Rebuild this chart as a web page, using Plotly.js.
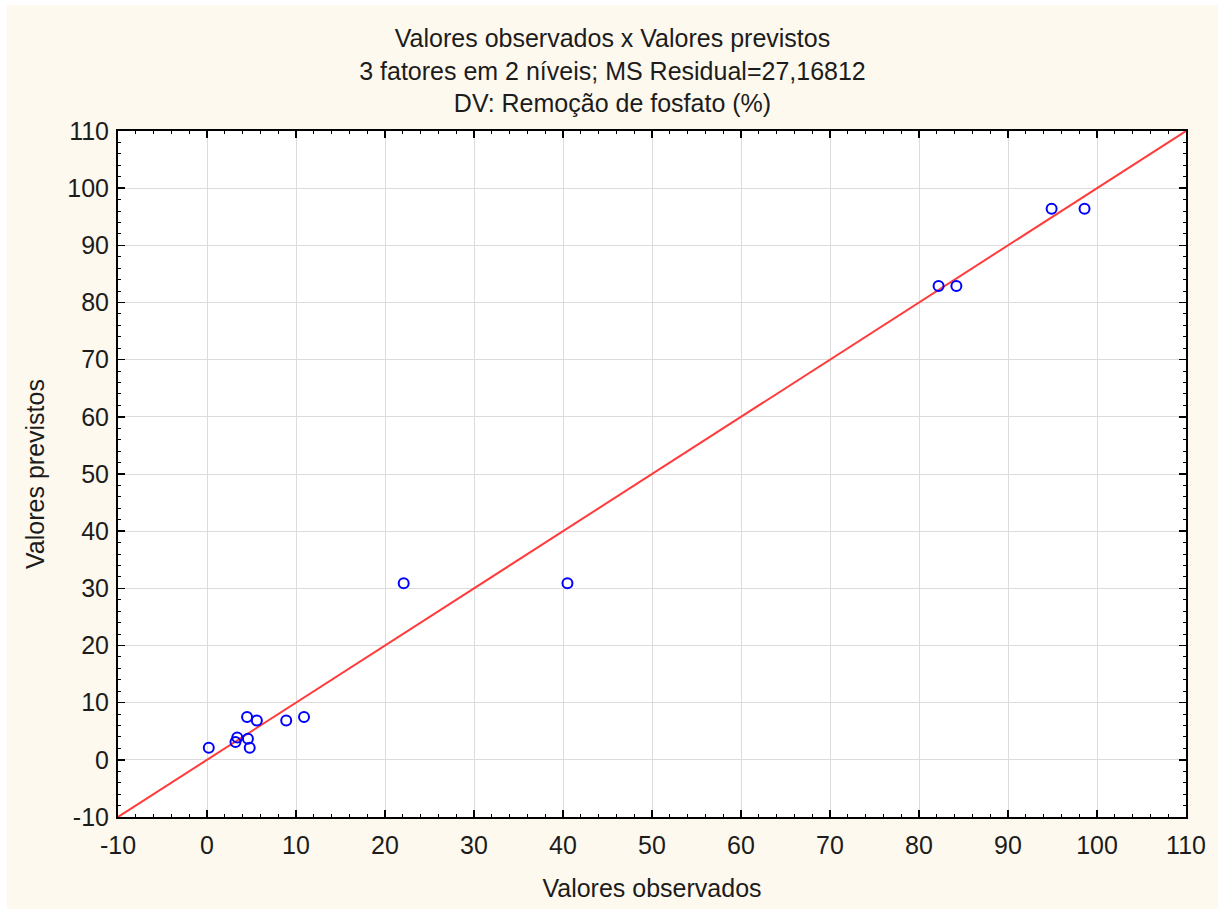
<!DOCTYPE html>
<html>
<head>
<meta charset="utf-8">
<script src="https://cdn.plot.ly/plotly-3.0.1.min.js"></script>
<style>
html,body{margin:0;padding:0;background:#ffffff;}
#chart{position:absolute;left:7px;top:5px;width:1211px;height:904px;}
</style>
</head>
<body>
<div id="chart"></div>
<script>
// Observed vs predicted values
const observed  = [0.2, 4.5, 5.6, 8.9, 10.9, 3.4, 3.2, 4.6, 4.8, 22.1, 40.5, 82.2, 84.2, 94.9, 98.6];
const predicted = [2.1, 7.5, 6.9, 6.9, 7.5, 3.9, 3.1, 3.7, 2.1, 30.9, 30.9, 82.9, 82.9, 96.4, 96.4];
const lineX = [-10, 110];
const lineY = [-10, 110];
const tickVals = [-10, 0, 10, 20, 30, 40, 50, 60, 70, 80, 90, 100, 110];
const tickText = ["-10", "0", "10", "20", "30", "40", "50", "60", "70", "80", "90", "100", "110"];
const titleLines = [
  "Valores observados x Valores previstos",
  "3 fatores em 2 níveis; MS Residual=27,16812",
  "DV: Remoção de fosfato (%)"
];
const xTitle = "Valores observados";
const yTitle = "Valores previstos";

const FONT = "Arial, 'Liberation Sans', sans-serif";
const FS = 25;
const TXT = "#1c1c1c";

const traces = [
  {
    x: lineX, y: lineY, mode: "lines", type: "scatter",
    line: {color: "#ff3b3b", width: 2}, hoverinfo: "skip", showlegend: false
  },
  {
    x: observed, y: predicted, mode: "markers", type: "scatter",
    marker: {symbol: "circle-open", size: 10, color: "#0000ff", line: {width: 2, color: "#0000ff"}},
    showlegend: false
  }
];

const axisCommon = {
  range: [-10, 110],
  tickmode: "array", tickvals: tickVals, ticktext: tickText,
  showgrid: true, gridcolor: "#dcdcdc", gridwidth: 1,
  zeroline: false,
  showline: true, linecolor: "#000000", linewidth: 2, mirror: "allticks",
  ticks: "inside", ticklen: 7, tickwidth: 1.5, tickcolor: "#000000",
  minor: {tickmode: "linear", tick0: 0, dtick: 2, ticks: "inside", ticklen: 3, tickwidth: 1, tickcolor: "#000000", showgrid: false},
  tickfont: {family: FONT, size: FS, color: TXT},
  fixedrange: true
};

const layout = {
  width: 1211, height: 904,
  paper_bgcolor: "#fef9ee",
  plot_bgcolor: "#ffffff",
  margin: {l: 111, r: 32, t: 126, b: 92},
  font: {family: FONT, size: FS, color: TXT},
  title: {
    text: titleLines.join("<br>"),
    font: {family: FONT, size: FS, color: TXT},
    xref: "container", x: 0.5, xanchor: "center",
    yref: "container", y: 1 - (42 / 904), yanchor: "top"
  },
  xaxis: Object.assign({}, axisCommon, {
    title: {text: xTitle, font: {family: FONT, size: FS, color: TXT}, standoff: 21},
    ticklabelstandoff: 5
  }),
  yaxis: Object.assign({}, axisCommon, {
    title: {text: yTitle, font: {family: FONT, size: FS, color: TXT}, standoff: 16},
    ticklabelstandoff: 2
  }),
  showlegend: false
};

Plotly.newPlot("chart", traces, layout, {displayModeBar: false, staticPlot: true});
</script>
</body>
</html>
